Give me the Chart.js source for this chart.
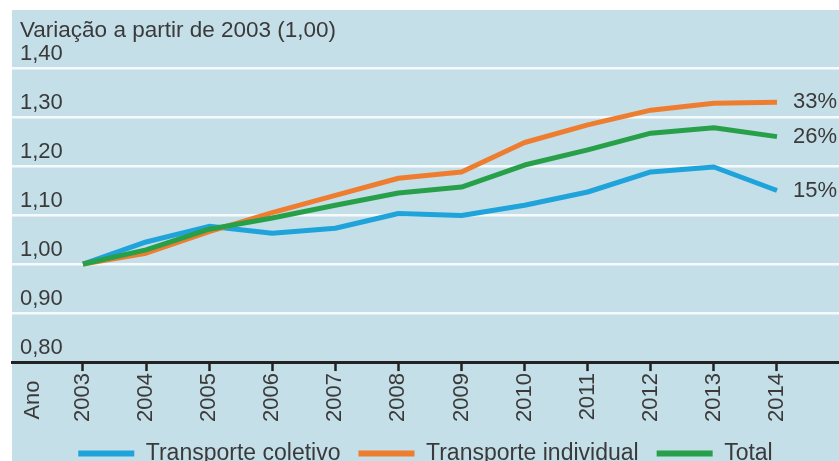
<!DOCTYPE html>
<html>
<head>
<meta charset="utf-8">
<script src="https://cdn.jsdelivr.net/npm/chart.js@4/dist/chart.umd.min.js"></script>
<style>
  html, body { margin: 0; padding: 0; background: #fff; }
  #wrap { width: 839px; height: 461px; }
</style>
</head>
<body>
<div id="wrap"><canvas id="chart"></canvas></div>
<script>
// index values, 2003 = 1,00
const years = [2003, 2004, 2005, 2006, 2007, 2008, 2009, 2010, 2011, 2012, 2013, 2014];
const coletivo = [1.00, 1.045, 1.077, 1.063, 1.073, 1.103, 1.099, 1.12, 1.147, 1.188, 1.198, 1.15];
const individual = [1.00, 1.022, 1.066, 1.105, 1.14, 1.175, 1.188, 1.248, 1.284, 1.314, 1.328, 1.33];
const total = [1.00, 1.029, 1.071, 1.094, 1.12, 1.145, 1.157, 1.202, 1.233, 1.267, 1.278, 1.26];
const seriesNames = ['Transporte coletivo', 'Transporte individual', 'Total'];
const endLabels = ['15%', '33%', '26%'];
const yTicks = [0.8, 0.9, 1.0, 1.1, 1.2, 1.3, 1.4];
const yTitle = 'Variação a partir de 2003 (1,00)';
const xTitle = 'Ano';

const FONT = "'Liberation Sans', Arial, Helvetica, sans-serif";
const TEXT = '#3a3a3a';
const colors = ['#1fa3db', '#ee7d30', '#27a049'];

function points(vals) {
  return years.map((yr, i) => ({ x: yr, y: vals[i] }));
}

const panel = {
  id: 'panel',
  beforeDraw(chart) {
    const ctx = chart.ctx;
    ctx.save();
    ctx.fillStyle = '#c5dfe8';
    ctx.fillRect(12, 10, chart.width - 12, chart.height - 10);
    ctx.restore();
  },
  afterDatasetsDraw(chart) {
    const ctx = chart.ctx;
    const y = chart.scales.y;
    const x = chart.scales.x;
    ctx.save();
    ctx.fillStyle = TEXT;
    ctx.font = '22.5px ' + FONT;
    ctx.textAlign = 'left';
    ctx.textBaseline = 'alphabetic';
    ctx.fillText(yTitle, 20, 37);

    // right-hand labels at the end of each line
    ctx.font = '22px ' + FONT;
    ctx.textBaseline = 'middle';
    chart.data.datasets.forEach((ds, i) => {
      const last = ds.data[ds.data.length - 1];
      ctx.fillText(endLabels[i], x.getPixelForValue(last.x) + 16, y.getPixelForValue(last.y));
    });

    // axis name, rotated, left of the year labels
    ctx.translate(33, 400);
    ctx.rotate(-Math.PI / 2);
    ctx.textAlign = 'center';
    ctx.fillText(xTitle, 0, 0);
    ctx.restore();
  }
};

new Chart(document.getElementById('chart'), {
  type: 'line',
  data: {
    datasets: [
      { label: seriesNames[0], data: points(coletivo), order: 2 },
      { label: seriesNames[1], data: points(individual), order: 1 },
      { label: seriesNames[2], data: points(total), order: 0 }
    ].map((ds, i) => Object.assign(ds, {
      borderColor: colors[i],
      backgroundColor: colors[i],
      borderWidth: 5,
      pointRadius: 0,
      tension: 0,
      borderJoinStyle: 'round'
    }))
  },
  options: {
    responsive: true,
    maintainAspectRatio: false,
    animation: false,
    layout: { padding: { top: 68, left: 12, right: 0, bottom: 0 } },
    scales: {
      x: {
        type: 'linear',
        min: 2001.875,
        max: 2014.983,
        afterBuildTicks: (axis) => { axis.ticks = years.map(v => ({ value: v })); },
        border: { display: true, color: '#222', width: 3 },
        grid: {
          drawOnChartArea: false,
          drawTicks: true,
          tickLength: 9,
          tickWidth: 2.5,
          tickColor: '#222',
          color: '#222'
        },
        ticks: {
          autoSkip: false,
          minRotation: 90,
          maxRotation: 90,
          padding: 2,
          color: TEXT,
          font: { family: FONT, size: 22 },
          callback: (v) => String(v)
        }
      },
      y: {
        min: yTicks[0],
        max: yTicks[yTicks.length - 1],
        afterBuildTicks: (axis) => { axis.ticks = yTicks.map(v => ({ value: v })); },
        // labels sit inside the plot, so the axis itself takes no room
        afterFit: (axis) => { axis.width = 0; },
        border: { display: false },
        grid: {
          drawTicks: false,
          lineWidth: 2.5,
          color: (c) => (c.tick && c.tick.value <= yTicks[0] ? 'rgba(0,0,0,0)' : 'rgba(255,255,255,0.85)')
        },
        ticks: {
          mirror: true,
          padding: 8,
          labelOffset: -14,
          color: TEXT,
          font: { family: FONT, size: 22 },
          callback: (v) => v.toFixed(2).replace('.', ',')
        }
      }
    },
    plugins: {
      tooltip: { enabled: false },
      legend: {
        position: 'bottom',
        maxHeight: 37,
        labels: {
          boxWidth: 56,
          boxHeight: 6,
          padding: 18,
          color: TEXT,
          font: { family: FONT, size: 23 },
          sort: (a, b) => a.datasetIndex - b.datasetIndex,
          generateLabels: (chart) => Chart.defaults.plugins.legend.labels.generateLabels(chart)
            .map(item => Object.assign(item, { lineWidth: 0 }))
        }
      }
    }
  },
  plugins: [panel]
});
</script>
</body>
</html>
